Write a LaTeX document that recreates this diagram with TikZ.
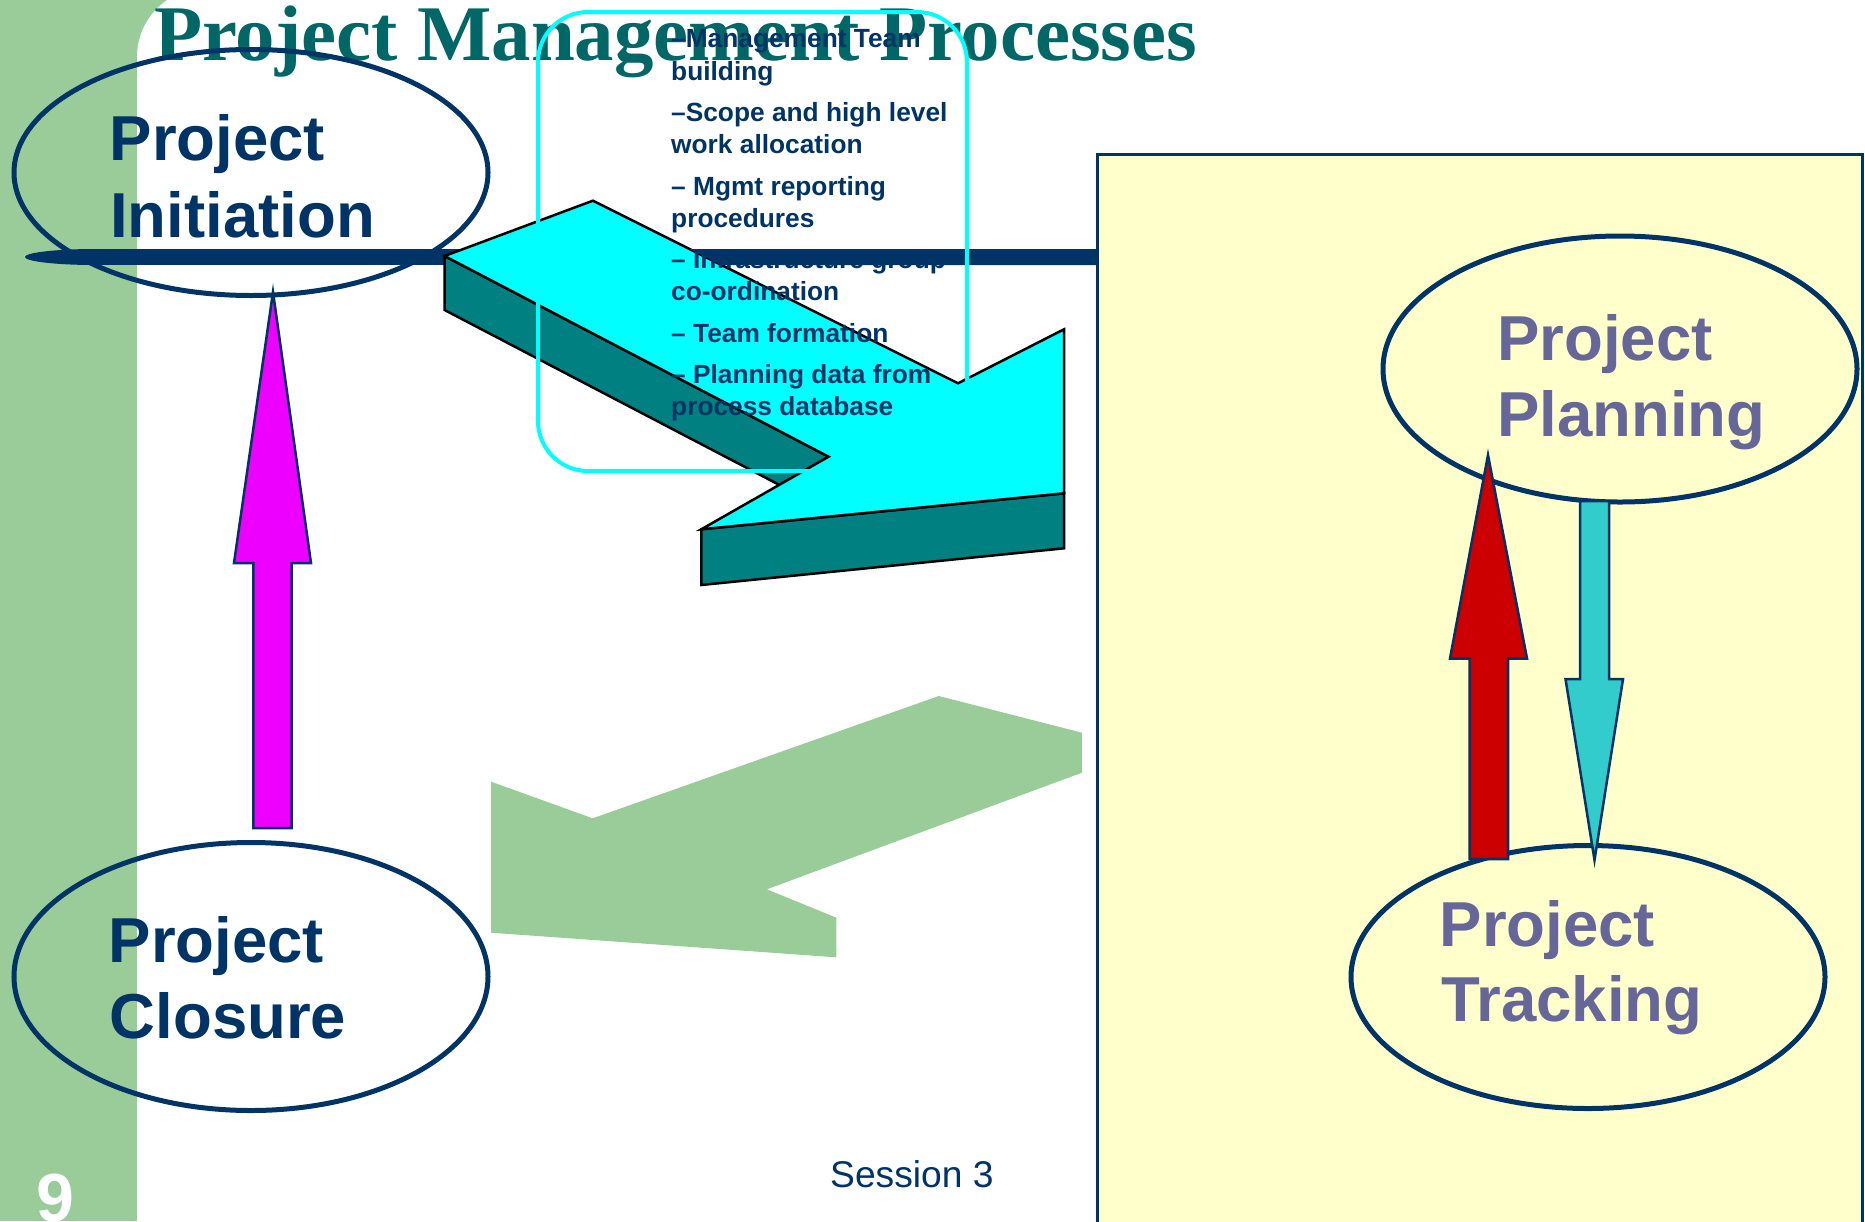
\documentclass[tikz,border=0pt]{standalone}
\usepackage{fontspec}
\setmainfont{Liberation Sans}
\newfontfamily\titlefont{Liberation Serif}
\usetikzlibrary{shapes.geometric}
\definecolor{navy}{RGB}{0,51,102}
\definecolor{sidegreen}{RGB}{153,204,153}
\definecolor{titleteal}{RGB}{0,102,102}
\definecolor{boxyellow}{RGB}{255,255,204}
\definecolor{lavender}{RGB}{102,102,153}
\definecolor{arrowteal}{RGB}{0,128,128}
\definecolor{aqua}{RGB}{0,255,255}
\definecolor{lightteal}{RGB}{51,204,204}
\definecolor{darkred}{RGB}{204,0,0}
\definecolor{magentaarrow}{RGB}{238,0,255}
\tikzset{
  stage/.style={ellipse, draw=navy, line width=5pt, inner sep=0pt, minimum width=474pt},
  biglabel/.style={anchor=base west, inner sep=0pt, font=\fontsize{63.5}{63.5}\selectfont\bfseries},
  itemtext/.style={anchor=base west, inner sep=0pt, text=navy, font=\fontsize{26.3}{26.3}\selectfont\bfseries},
  blockarrow/.style={draw=navy, line width=2.5pt, line join=miter},
  solidface/.style={draw=black, line width=2.5pt, line join=miter},
}
\begin{document}
\begin{tikzpicture}[x=1pt,y=-1pt]
\useasboundingbox (0,0) rectangle (1865,1221);
\clip (0,0) rectangle (1865,1221);
% background
\fill[white] (0,0) rectangle (1865,1221);
\fill[sidegreen] (0,0) rectangle (230,1221);
\fill[white, rounded corners=69pt] (137,-12) rectangle (2100,1400);
% yellow panel
\filldraw[fill=boxyellow, draw=navy, line width=3pt] (1097.5,154.5) rectangle (1862,1260);
% title
\node[anchor=base west, inner sep=0pt, text=titleteal, font=\titlefont\fontsize{78.8}{78.8}\selectfont\bfseries] (title) at (154,60) {Project Management Processes};
% green back arrow
\fill[sidegreen] (938.8,696) -- (1081.9,732.7) -- (1081.9,772.7) -- (766.8,889.3) -- (836.4,917.7) -- (836.4,957.3) -- (491.1,932.7) -- (491.1,781.7) -- (592.7,818.3) -- cycle;
% initiation ellipse
\node[stage, minimum height=246pt] (init) at (251,172.5) {};
% navy rule (under the 3D arrow)
\fill[navy] (95,257) ellipse [x radius=70, y radius=8];
\fill[navy] (95,249) rectangle (1097.5,265);
% 3D cyan arrow
\filldraw[fill=arrowteal, solidface] (444.6,256) -- (444.6,310) -- (779.5,485) -- (828.6,456.7) -- cycle;
\filldraw[fill=arrowteal, solidface] (701.3,529.3) -- (701.3,585) -- (1064,548.3) -- (1064,493.3) -- cycle;
\filldraw[fill=aqua, solidface] (444.6,256) -- (592.9,200.7) -- (958,383.3) -- (1064,329.3) -- (1064,493.3) -- (701.3,529.3) -- (828.6,456.7) -- cycle;
% text items
\node[itemtext] (t1) at (671,47) {–Management Team};
\node[itemtext] (t2) at (671,80) {building};
\node[itemtext] (t3) at (671,121) {–Scope and high level};
\node[itemtext] (t4) at (671,153) {work allocation};
\node[itemtext] (t5) at (671,195) {– Mgmt reporting};
\node[itemtext] (t6) at (671,227) {procedures};
\node[itemtext] (t7) at (671,268) {– Infrastructure group};
\node[itemtext] (t8) at (671,300) {co-ordination};
\node[itemtext] (t9) at (671,342) {– Team formation};
\node[itemtext] (t10) at (671,383) {– Planning data from};
\node[itemtext] (t11) at (671,415) {process database};
% navy rule over the text, right of the arrow
\fill[navy] (689.5,249) -- (1097.5,249) -- (1097.5,265) -- (721.5,265) -- cycle;
% cyan frame of the text box
\draw[aqua, line width=4pt, rounded corners=50pt] (538,12) rectangle (967,471);
% other ellipses
\node[stage, minimum height=268pt] (closure) at (251,976.5) {};
\node[stage, minimum height=266pt] (planning) at (1620,369) {};
\node[stage, minimum height=263pt] (tracking) at (1588,977) {};
% labels
\node[biglabel, text=navy] (l1) at (109.5,160) {Project};
\node[biglabel, text=navy] (l2) at (110,237) {Initiation};
\node[biglabel, text=navy] (l3) at (108.5,962) {Project};
\node[biglabel, text=navy] (l4) at (109.5,1038) {Closure};
\node[biglabel, text=lavender] (l5) at (1497,360) {Project};
\node[biglabel, text=lavender] (l6) at (1497,436) {Planning};
\node[biglabel, text=lavender] (l7) at (1439.5,946) {Project};
\node[biglabel, text=lavender] (l8) at (1441,1021) {Tracking};
% block arrows
\filldraw[fill=magentaarrow, blockarrow] (273,292) -- (311,563) -- (291.5,563) -- (291.5,828) -- (253.3,828) -- (253.3,563) -- (234,563) -- cycle;
\filldraw[fill=darkred, blockarrow] (1488,455) -- (1527,658.5) -- (1508,658.5) -- (1508,859) -- (1469.5,859) -- (1469.5,658.5) -- (1450,658.5) -- cycle;
\filldraw[fill=lightteal, blockarrow] (1580,501) -- (1609,501) -- (1609,679) -- (1623,679) -- (1594.5,860) -- (1565.5,679) -- (1580,679) -- cycle;
% footer
\node[anchor=base west, inner sep=0pt, text=navy, font=\fontsize{37.2}{37.2}\selectfont] (session) at (830,1187) {Session 3};
\node[anchor=base west, inner sep=0pt, text=white, font=\fontsize{68}{68}\selectfont\bfseries] (pagenum) at (36.5,1221) {9};
\end{tikzpicture}
\end{document}
